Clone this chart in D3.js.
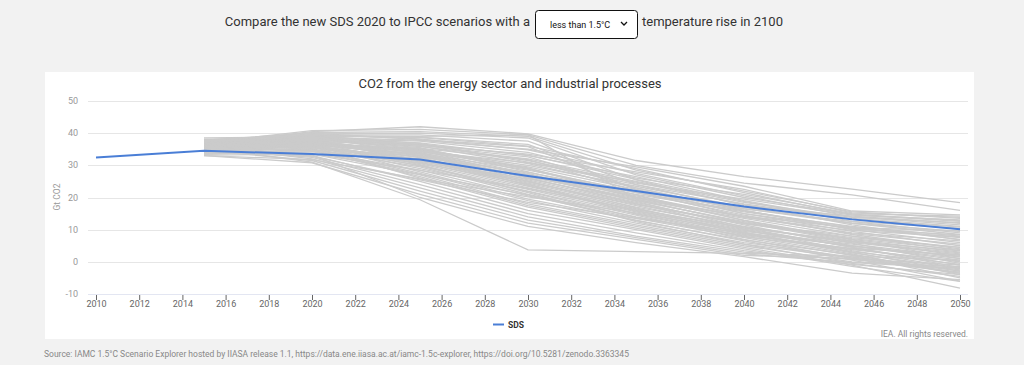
<!DOCTYPE html>
<html><head><meta charset="utf-8">
<script src="https://cdn.jsdelivr.net/npm/d3@7"></script>
<style>
html,body{margin:0;padding:0;background:#f2f2f2;}
svg{display:block;font-family:Roboto, "Noto Sans", sans-serif;}
</style></head>
<body><svg id="c" width="1024" height="365"></svg>
<script>
// ---- data ----
const sdsYears = [2010, 2015, 2020, 2025, 2030, 2035, 2040, 2045, 2050];
const sdsValues = [32.4, 34.5, 33.5, 31.8, 26.7, 22.0, 17.2, 13.2, 10.1];
const ipccYears = [2015, 2020, 2025, 2030, 2035, 2040, 2045, 2050];
const ipccScenarios = [
 [36.5,40.5,42.0,39.8,31.5,26.5,22.6,18.4],
 [37.0,40.8,41.2,39.5,30.0,24.5,20.8,16.0],
 [36.8,40.2,40.5,39.0,28.5,22.0,15.5,13.5],
 [37.5,39.8,40.0,38.5,27.0,20.0,14.8,12.8],
 [35.8,39.5,39.5,37.5,25.5,17.5,14.2,12.0],
 [36.2,39.0,38.8,36.5,24.0,16.5,12.0,9.5],
 [37.8,40.0,38.0,35.8,22.5,15.0,10.5,7.5],
 [36.0,38.5,37.5,34.0,26.0,21.0,15.0,14.2],
 [35.5,38.0,36.5,31.5,24.5,19.5,14.5,13.0],
 [36.3,39.2,39.0,39.5,19.5,12.0,8.0,4.5],
 [35.0,37.5,36.0,30.5,23.0,16.0,10.0,6.0],
 [34.5,36.8,35.0,29.0,21.5,14.5,8.5,4.0],
 [36.0,38.2,35.5,28.0,20.0,13.0,7.0,3.0],
 [37.2,38.8,34.5,27.5,19.0,12.5,6.5,2.0],
 [35.3,37.0,34.0,27.0,21.0,15.5,11.0,8.0],
 [34.8,36.5,33.5,26.0,18.5,11.5,5.0,0.5],
 [36.7,38.0,33.0,25.5,18.0,12.0,7.5,4.5],
 [35.6,37.3,32.5,25.0,17.5,10.5,4.5,-1.0],
 [34.2,36.0,32.0,24.5,17.0,11.0,6.0,2.5],
 [36.4,37.8,31.5,24.0,16.5,10.0,3.5,-2.0],
 [37.0,38.5,31.0,23.5,16.0,9.5,5.5,1.5],
 [35.1,36.2,30.5,23.0,15.5,9.0,3.0,-3.0],
 [33.8,35.5,30.0,22.5,15.0,8.5,4.0,0.0],
 [36.9,37.6,33.8,28.5,22.0,16.5,12.5,9.0],
 [35.4,36.9,34.8,30.0,23.5,17.0,12.0,8.5],
 [37.6,39.2,36.8,31.0,24.0,18.0,13.5,11.0],
 [36.1,38.6,35.8,32.0,25.0,18.5,13.8,12.2],
 [34.9,37.1,34.2,29.5,22.5,15.0,9.5,5.0],
 [35.7,36.4,33.2,26.5,19.5,13.5,8.0,3.5],
 [33.5,35.0,29.5,21.0,14.0,8.0,2.5,-4.0],
 [34.0,34.5,28.5,20.5,13.5,7.5,2.0,-5.0],
 [35.9,36.0,29.0,22.0,14.5,7.0,1.0,-3.5],
 [36.6,36.6,28.0,19.5,13.0,6.5,0.5,-6.0],
 [34.6,35.2,27.5,19.0,12.0,6.0,1.5,-2.5],
 [33.2,33.5,27.0,18.0,11.5,5.5,-0.5,-4.5],
 [35.2,34.8,26.5,17.5,11.0,5.0,0.0,-1.5],
 [36.3,35.8,26.0,17.0,10.5,4.5,-1.0,-8.2],
 [34.4,33.0,25.0,16.0,10.0,4.0,-1.4,-6.1],
 [37.3,37.2,30.2,21.5,12.5,5.5,1.2,-2.8],
 [35.0,32.5,24.0,15.0,9.0,3.5,-0.8,-4.0],
 [36.0,32.0,23.0,14.0,8.0,3.0,0.8,-3.2],
 [34.7,31.5,22.0,13.0,7.5,2.5,-0.2,-2.0],
 [33.0,30.8,21.0,12.0,7.0,2.0,1.0,-1.0],
 [35.5,31.0,19.3,3.7,3.2,2.6,1.8,0.5],
 [35.8,33.2,20.0,11.0,6.0,1.6,-3.5,-5.5],
 [34.1,32.8,25.5,18.5,13.5,9.0,5.0,1.0],
 [36.8,36.2,31.8,26.8,20.5,14.0,9.0,6.5],
 [35.3,35.6,32.6,27.8,21.5,15.8,10.8,7.0],
 [37.1,38.4,37.0,33.0,26.5,19.0,13.2,10.8],
 [36.5,39.6,38.2,34.8,27.5,20.5,14.0,11.5],
 [35.0,37.9,36.3,33.5,28.0,22.5,15.2,13.8],
 [34.3,36.7,35.3,31.8,22.0,14.0,8.8,5.5],
 [36.2,37.4,34.6,28.8,20.8,12.8,6.8,1.0],
 [33.6,34.2,31.2,25.8,19.2,12.2,6.2,2.8],
 [35.8,35.4,31.4,24.8,17.8,11.8,7.2,3.8],
 [37.4,38.1,35.2,29.2,20.2,13.8,9.8,7.8],
 [34.0,36.3,33.6,27.2,18.8,10.8,5.8,-0.5],
 [36.4,37.0,32.4,23.8,15.8,9.8,4.8,1.8],
 [35.2,36.6,34.4,30.8,24.8,17.8,11.5,6.8],
 [36.9,39.3,38.6,36.0,29.0,21.5,14.6,12.6],
 [35.6,38.8,37.8,35.0,29.5,23.5,15.8,14.6],
 [34.8,35.8,31.6,25.2,16.8,8.8,2.8,-2.2],
 [33.4,34.8,30.8,24.2,14.8,7.8,3.8,0.2],
 [36.0,36.4,29.8,21.8,13.8,8.2,4.2,2.2],
 [38.5,38.9,33.6,26.2,18.2,10.2,4.6,-1.8],
 [38.0,39.4,36.2,32.6,23.0,16.0,10.2,8.4],
 [33.0,31.8,25.8,20.2,15.2,9.2,3.2,-0.8],
 [34.5,33.6,28.4,22.8,16.2,10.6,6.4,3.4],
 [35.7,34.4,27.2,20.8,12.8,6.8,2.2,-3.6],
 [37.7,37.8,32.8,26.6,19.8,14.2,10.6,9.6],
 [36.6,38.3,36.6,33.2,25.6,18.8,12.6,10.4]
];
const yTicks = [-10, 0, 10, 20, 30, 40, 50];
const xTicks = d3.range(2010, 2051, 2);
const chartTitle = "CO2 from the energy sector and industrial processes";
const yTitle = "Gt CO2";
const legendLabel = "SDS";
const headerBefore = "Compare the new SDS 2020 to IPCC scenarios with a";
const headerSelect = "less than 1.5°C";
const headerAfter = "temperature rise in 2100";
const credit = "IEA. All rights reserved.";
const sourceText = "Source: IAMC 1.5°C Scenario Explorer hosted by IIASA release 1.1, https://data.ene.iiasa.ac.at/iamc-1.5c-explorer, https://doi.org/10.5281/zenodo.3363345";

// ---- drawing ----
const svg = d3.select("#c");
const x = d3.scaleLinear().domain([2010, 2050]).range([96, 960]);
const y = d3.scaleLinear().domain([-10, 50]).range([294, 101]);

// header
svg.append("text").attr("x", 530).attr("y", 26).attr("text-anchor", "end")
  .attr("font-size", 13).attr("fill", "#333").text(headerBefore);
svg.append("rect").attr("x", 535.5).attr("y", 10.5).attr("width", 102).attr("height", 28)
  .attr("rx", 3).attr("fill", "#fff").attr("stroke", "#111").attr("stroke-width", 1);
svg.append("text").attr("x", 550).attr("y", 28).attr("font-size", 9).attr("fill", "#111").text(headerSelect);
svg.append("path").attr("d", "M621,22 l3,3 l3,-3").attr("fill", "none").attr("stroke", "#111").attr("stroke-width", 1.3);
svg.append("text").attr("x", 642).attr("y", 26).attr("font-size", 13).attr("fill", "#333").text(headerAfter);

// panel
svg.append("rect").attr("x", 45).attr("y", 72).attr("width", 929).attr("height", 267).attr("fill", "#fff");

// title
svg.append("text").attr("x", 510).attr("y", 88).attr("text-anchor", "middle")
  .attr("font-size", 13).attr("fill", "#333").text(chartTitle);

// grid
svg.append("g").selectAll("line").data(yTicks.filter(d => d !== -10)).join("line")
  .attr("x1", 88).attr("x2", 968).attr("y1", d => Math.round(y(d)) + 0.5).attr("y2", d => Math.round(y(d)) + 0.5)
  .attr("stroke", "#e6e6e6").attr("stroke-width", 1);

// y labels
svg.append("g").selectAll("text").data(yTicks).join("text")
  .attr("x", 78).attr("y", d => y(d) + 3).attr("text-anchor", "end")
  .attr("font-size", 9).attr("fill", "#999").text(d => d);

svg.append("text").attr("transform", "translate(60,197) rotate(-90)").attr("text-anchor", "middle")
  .attr("font-size", 8.5).attr("fill", "#999").text(yTitle);

// x axis
const xAxis = svg.append("g").attr("transform", "translate(0,294)")
  .call(d3.axisBottom(x).tickValues(xTicks).tickFormat(d3.format("d")).tickSize(6).tickSizeOuter(0));
xAxis.select(".domain").remove();
xAxis.append("line").attr("x1", 88).attr("x2", 968).attr("y1", 0.5).attr("y2", 0.5).attr("stroke", "#e3e6f2");
xAxis.selectAll(".tick line").attr("stroke", "#666");
xAxis.selectAll(".tick text").attr("font-size", 9).attr("fill", "#666").attr("font-family", "Roboto, sans-serif").attr("dy", "0.71em").attr("y", 7);

// scenario lines
const line = d3.line().x(d => x(d[0])).y(d => y(d[1]));
svg.append("g").selectAll("path").data(ipccScenarios).join("path")
  .attr("d", s => line(ipccYears.map((yr, i) => [yr, s[i]])))
  .attr("fill", "none").attr("stroke", "#cbcbcb").attr("stroke-width", 1.3);

// SDS
svg.append("path").attr("d", line(sdsYears.map((yr, i) => [yr, sdsValues[i]])))
  .attr("fill", "none").attr("stroke", "#4a7ed6").attr("stroke-width", 2);

// legend
svg.append("line").attr("x1", 493).attr("x2", 504).attr("y1", 324.5).attr("y2", 324.5)
  .attr("stroke", "#4a7ed6").attr("stroke-width", 2);
svg.append("text").attr("x", 508).attr("y", 327.5).attr("font-size", 8.5).attr("font-weight", "bold")
  .attr("fill", "#333").text(legendLabel);

svg.append("text").attr("x", 968).attr("y", 337).attr("text-anchor", "end")
  .attr("font-size", 8.5).attr("fill", "#888").text(credit);

svg.append("text").attr("x", 44).attr("y", 357).attr("font-size", 8.5).attr("fill", "#888").text(sourceText);
</script></body></html>
